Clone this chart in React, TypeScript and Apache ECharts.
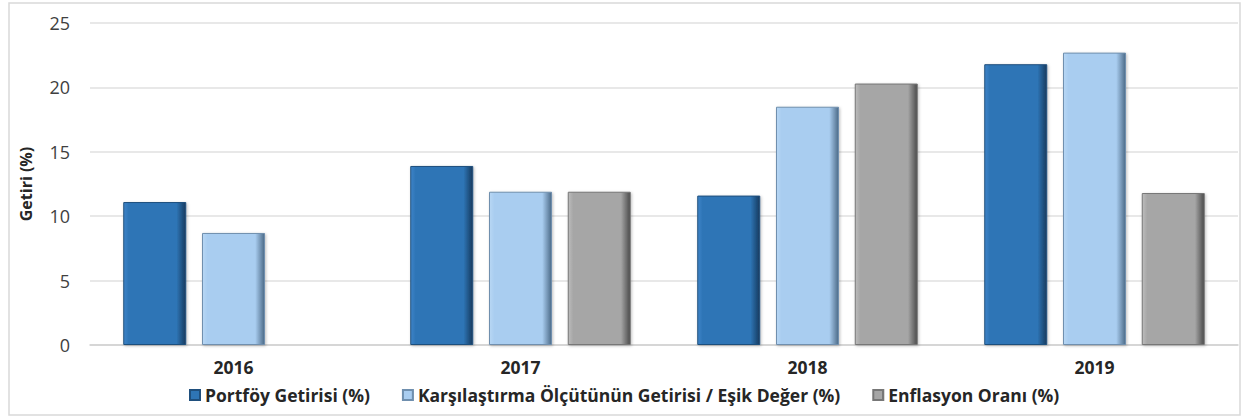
import React, { useEffect, useRef } from "react";
import * as echarts from "echarts";

const categories = ["2016", "2017", "2018", "2019"];
const portfoy = [11.1, 13.9, 11.6, 21.8];
const karsilastirma = [8.7, 11.9, 18.5, 22.7];
const enflasyon = [0, 11.9, 20.3, 11.8];
const seriesNames = [
  "Portföy Getirisi (%)",
  "Karşılaştırma Ölçütünün Getirisi / Eşik Değer (%)",
  "Enflasyon Oranı (%)",
];

function grad(light: string, mid: string, dark: string) {
  return new echarts.graphic.LinearGradient(0, 0, 1, 0, [
    { offset: 0, color: light },
    { offset: 0.08, color: mid },
    { offset: 0.85, color: mid },
    { offset: 1, color: dark },
  ]);
}

export default function App() {
  const ref = useRef<HTMLDivElement>(null);
  useEffect(() => {
    const chart = echarts.init(ref.current!, undefined, { renderer: "svg" });
    const styles = [
      { c: grad("#3f83c8", "#2e75b6", "#173a5e"), b: "#1f4f7d" },
      { c: grad("#b8d7f4", "#a9cdf0", "#4d6b88"), b: "#6f8fae" },
      { c: grad("#bdbdbd", "#a6a6a6", "#4a4a4a"), b: "#777777" },
    ];
    const data = [portfoy, karsilastirma, enflasyon];
    chart.setOption({
      animation: false,
      graphic: [
        {
          type: "rect",
          shape: { x: 9, y: 3, width: 1231, height: 412 },
          style: { fill: "none", stroke: "#d9d9d9", lineWidth: 1.5 },
          silent: true,
        },
      ],
      legend: {
        top: 381,
        left: 184,
        itemWidth: 10,
        itemHeight: 10,
        itemGap: 32,
        icon: "rect",
        textStyle: {
          fontFamily: "Open Sans",
          fontWeight: "bold",
          fontSize: 17.5,
          color: "#262626",
        },
        data: seriesNames,
      },
      grid: { left: 90, right: 5, top: 23, bottom: 73 },
      xAxis: {
        type: "category",
        data: categories,
        axisLine: { lineStyle: { color: "#d0d0d0", width: 1.5 } },
        axisTick: { show: false },
        axisLabel: {
          fontFamily: "Open Sans",
          fontWeight: "bold",
          fontSize: 17.5,
          color: "#262626",
          margin: 13,
        },
      },
      yAxis: {
        type: "value",
        min: 0,
        max: 25,
        interval: 5,
        name: "Getiri (%)",
        nameLocation: "middle",
        nameGap: 56,
        nameTextStyle: {
          fontFamily: "Open Sans",
          fontWeight: "bold",
          fontSize: 16,
          color: "#262626",
        },
        axisLabel: {
          fontFamily: "Open Sans",
          fontSize: 18,
          color: "#404040",
          margin: 20,
        },
        splitLine: { lineStyle: { color: "#e0e0e0", width: 1.5 } },
      },
      series: seriesNames.map((n, i) => ({
        name: n,
        type: "bar",
        data: data[i],
        barWidth: 63,
        barGap: "25%",
        itemStyle: {
          color: styles[i].c,
          borderColor: styles[i].b,
          borderWidth: 1,
          shadowColor: "rgba(0,0,0,0.25)",
          shadowBlur: 3,
          shadowOffsetX: 1,
          shadowOffsetY: 1,
        },
      })),
    });
    return () => chart.dispose();
  }, []);
  return (
    <div
      ref={ref}
      style={{ position: "absolute", left: 0, top: 0, width: 1243, height: 418, background: "#fff" }}
    />
  );
}
